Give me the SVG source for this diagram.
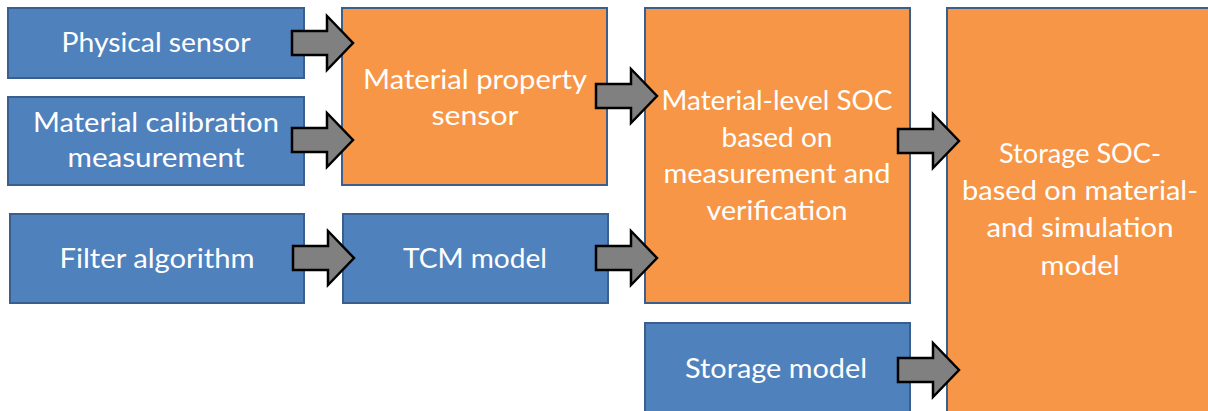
<svg xmlns="http://www.w3.org/2000/svg" width="1208" height="411" viewBox="0 0 1208 411">
<style>
.blue{fill:#4F81BD;stroke:#3A5F8E;stroke-width:2}
.orange{fill:#F79646;stroke:#3A5F8E;stroke-width:2}
.t{font-family:Lato,"Open Sans","Liberation Sans",sans-serif;font-size:27px;fill:#FFFFFF;text-anchor:middle}
.arr{fill:#808080;stroke:#000000;stroke-width:2.5;stroke-linejoin:miter}
</style>
<defs>
<path id="ar" d="M0,-12 L35,-12 L35,-27 L61,0 L35,27 L35,12 L0,12 Z"/>
</defs>
<rect width="1208" height="411" fill="#FFFFFF"/>
<g id="physical-sensor">
<rect class="blue" x="8" y="8" width="296" height="70"/>
<text class="t" x="156" y="52" textLength="189" lengthAdjust="spacingAndGlyphs">Physical sensor</text>
</g>
<g id="material-calibration">
<rect class="blue" x="8" y="97" width="296" height="88"/>
<text class="t" x="156" y="132" textLength="246" lengthAdjust="spacingAndGlyphs">Material calibration</text>
<text class="t" x="156" y="167" textLength="177" lengthAdjust="spacingAndGlyphs">measurement</text>
</g>
<g id="filter-algorithm">
<rect class="blue" x="10" y="214" width="294" height="89"/>
<text class="t" x="157" y="268" textLength="195" lengthAdjust="spacingAndGlyphs">Filter algorithm</text>
</g>
<g id="material-property-sensor">
<rect class="orange" x="342" y="8" width="265" height="177"/>
<text class="t" x="475" y="89" textLength="224" lengthAdjust="spacingAndGlyphs">Material property</text>
<text class="t" x="475" y="125" textLength="87" lengthAdjust="spacingAndGlyphs">sensor</text>
</g>
<g id="tcm-model">
<rect class="blue" x="343" y="214" width="265" height="89"/>
<text class="t" x="475" y="268" textLength="144" lengthAdjust="spacingAndGlyphs">TCM model</text>
</g>
<g id="material-level-soc">
<rect class="orange" x="645" y="8" width="265" height="295"/>
<text class="t" x="777" y="110" textLength="231" lengthAdjust="spacingAndGlyphs">Material-level SOC</text>
<text class="t" x="777" y="147" textLength="111" lengthAdjust="spacingAndGlyphs">based on</text>
<text class="t" x="777" y="183" textLength="227" lengthAdjust="spacingAndGlyphs">measurement and</text>
<text class="t" x="777" y="220" textLength="141" lengthAdjust="spacingAndGlyphs">verification</text>
</g>
<g id="storage-model">
<rect class="blue" x="645" y="323" width="265" height="100"/>
<text class="t" x="776" y="378" textLength="182" lengthAdjust="spacingAndGlyphs">Storage model</text>
</g>
<g id="storage-soc">
<rect class="orange" x="947" y="8" width="275" height="415"/>
<text class="t" x="1080" y="163" textLength="162" lengthAdjust="spacingAndGlyphs">Storage SOC-</text>
<text class="t" x="1080" y="200" textLength="236" lengthAdjust="spacingAndGlyphs">based on material-</text>
<text class="t" x="1080" y="237" textLength="187" lengthAdjust="spacingAndGlyphs">and simulation</text>
<text class="t" x="1080" y="275" textLength="79" lengthAdjust="spacingAndGlyphs">model</text>
</g>
<g id="connectors">
<use href="#ar" class="arr" x="292" y="43"/>
<use href="#ar" class="arr" x="292" y="140"/>
<use href="#ar" class="arr" x="293" y="258"/>
<use href="#ar" class="arr" x="596" y="96"/>
<use href="#ar" class="arr" x="596" y="258"/>
<use href="#ar" class="arr" x="898" y="141"/>
<use href="#ar" class="arr" x="898" y="370"/>
</g>
</svg>
